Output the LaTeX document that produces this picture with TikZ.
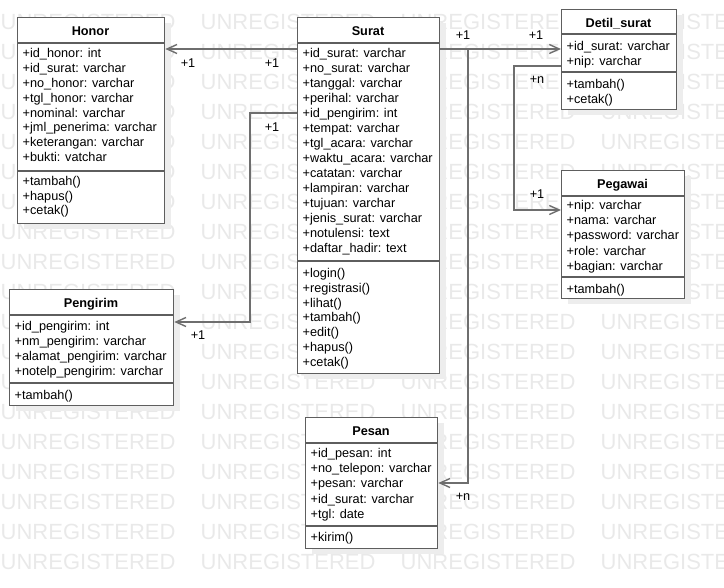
\documentclass[tikz,border=0pt]{standalone}
\usepackage{fontspec}
\setmainfont{Liberation Sans}
\usetikzlibrary{arrows.meta}
\definecolor{boxline}{HTML}{5E5E5E}
\definecolor{conn}{HTML}{6E6E6E}
\definecolor{wmark}{HTML}{E9E9E9}
\definecolor{shadowc}{HTML}{EDEDED}
\tikzset{
  classbox/.style={draw=boxline, fill=white, line width=1.3pt, inner sep=0pt, anchor=north west},
  sepline/.style={draw=boxline, line width=1.3pt},
  ctitle/.style={font=\bfseries\fontsize{12.7}{15}\selectfont, inner sep=0pt, anchor=base},
  attr/.style={font=\fontsize{12.7}{15}\selectfont, inner sep=0pt, anchor=base west},
  mult/.style={font=\fontsize{12.7}{15}\selectfont, inner sep=0pt},
  wm/.style={font=\fontsize{22}{22}\selectfont, text=wmark, inner sep=0pt, anchor=west},
  assoc/.style={draw=conn, line width=1.4pt, -{Straight Barb[length=10pt,width=9pt]}},
}
\newcommand\umlbox[8]{% name x1 y1 x2 y2 sep1 sep2 title
  \fill[shadowc] ({#2+7},{#3+6}) rectangle ({#4+7},{#5+6});
  \node[classbox, minimum width={(#4-#2)*1pt}, minimum height={(#5-#3)*1pt}] (#1) at (#2,#3) {};
  \draw[sepline] (#2,#6) -- (#4,#6);
  \draw[sepline] (#2,#7) -- (#4,#7);
  \node[ctitle] at ({(#2+#4)/2},{#3+18.5}) {#8};
}
\newcommand\umllines[4]{% x1 firstbaseline pitch list
  \foreach \t [count=\i from 0] in {#4}{
    \node[attr] at ({#1+5.5},{#2+\i*#3}) {\t};
  }
}
\begin{document}
\begin{tikzpicture}[x=1pt,y=-1pt]
\useasboundingbox (0,0) rectangle (724,588);
\clip (0,0) rectangle (724,588);
% watermark
\foreach \r in {0,...,18}{
  \foreach \c in {0,1,2,3}{
    \node[wm] at ({0.5+200*\c},{21.7+30*\r}) {UNREGISTERED};
  }
}
% classes
\umlbox{honor}{17}{17}{164}{223}{43}{171}{Honor}
\umllines{17}{57.5}{14.9}{+id\_honor: int,+id\_surat: varchar,+no\_honor: varchar,+tgl\_honor: varchar,%
+nominal: varchar,+jml\_penerima: varchar,+keterangan: varchar,+bukti: vatchar}
\umllines{17}{186}{14.5}{+tambah(),+hapus(),+cetak()}

\umlbox{surat}{297}{17}{439}{373}{43}{261}{Surat}
\umllines{297}{57.5}{15}{+id\_surat: varchar,+no\_surat: varchar,+tanggal: varchar,+perihal: varchar,%
+id\_pengirim: int,+tempat: varchar,+tgl\_acara: varchar,+waktu\_acara: varchar,+catatan: varchar,%
+lampiran: varchar,+tujuan: varchar,+jenis\_surat: varchar,+notulensi: text,+daftar\_hadir: text}
\umllines{297}{277.5}{14.8}{+login(),+registrasi(),+lihat(),+tambah(),+edit(),+hapus(),+cetak()}

\umlbox{detil}{561}{9}{676}{109}{34}{72}{Detil\_surat}
\umllines{561}{50.5}{15}{+id\_surat: varchar,+nip: varchar}
\umllines{561}{88.5}{15}{+tambah(),+cetak()}

\umlbox{pegawai}{561}{170}{684}{298}{196}{277}{Pegawai}
\umllines{561}{209.5}{15.2}{+nip: varchar,+nama: varchar,+password: varchar,+role: varchar,+bagian: varchar}
\umllines{561}{293.5}{15}{+tambah()}

\umlbox{pengirim}{9}{289}{173}{405}{315}{383}{Pengirim}
\umllines{9}{330.5}{15}{+id\_pengirim: int,+nm\_pengirim: varchar,+alamat\_pengirim: varchar,+notelp\_pengirim: varchar}
\umllines{9}{399.5}{15}{+tambah()}

\umlbox{pesan}{305}{417}{437}{548}{443}{526}{Pesan}
\umllines{305}{457.5}{15.2}{+id\_pesan: int,+no\_telepon: varchar,+pesan: varchar,+id\_surat: varchar,+tgl: date}
\umllines{305}{541.5}{15}{+kirim()}

% connectors
\draw[assoc] (surat.west |- 0,49) -- (honor.east |- 0,49);
\draw[assoc] (surat.west |- 0,113) -| (250,322) -- (pengirim.east |- 0,322);
\draw[assoc] (surat.east |- 0,49) -- (detil.west |- 0,49);
\draw[assoc] (surat.east |- 0,49) -| (468,483) -- (pesan.east |- 0,483);
\draw[assoc] (detil.west |- 0,66) -| (514,210) -- (pegawai.west |- 0,210);

% multiplicities
\node[mult] (m1) at (188,63) {+1};
\node[mult] (m2) at (272,63) {+1};
\node[mult] (m3) at (272,127) {+1};
\node[mult] (m4) at (198,335) {+1};
\node[mult] (m5) at (463,35) {+1};
\node[mult] (m6) at (536,35) {+1};
\node[mult] (m7) at (463,497) {+n};
\node[mult] (m8) at (537,80) {+n};
\node[mult] (m9) at (537,194) {+1};
\end{tikzpicture}
\end{document}
